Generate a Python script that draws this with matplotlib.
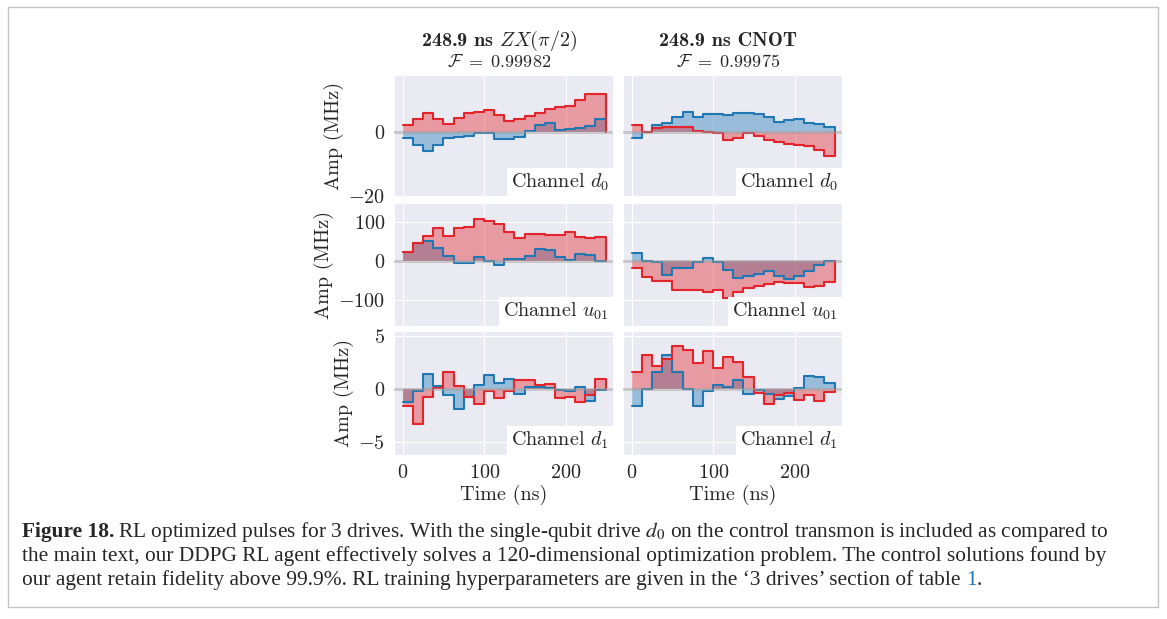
import numpy as np
import matplotlib.pyplot as plt
import seaborn as sns
from matplotlib.offsetbox import AnchoredText
from matplotlib.patches import Rectangle

sns.set_style('darkgrid')
plt.rcParams['font.family'] = ['cmr10']
plt.rcParams['mathtext.fontset'] = 'cm'
plt.rcParams['axes.formatter.use_mathtext'] = True

# pulse amplitudes (MHz), 20 piecewise-constant segments each
duration = 248.9
n_seg = 20

zx_d0_re = [2.1, 3.9, 5.9, 3.9, 2.4, 4.2, 5.7, 6.0, 6.8, 5.2, 3.4, 3.9, 5.0, 5.9, 7.0, 7.6, 8.1, 9.9, 11.8, 11.8]
zx_d0_im = [-2.1, -4.2, -5.9, -4.2, -2.1, -1.8, -1.25, -0.5, -0.5, -2.3, -2.4, -1.6, 0.3, 2.1, 2.6, 0.5, 0.7, 1.0, 1.9, 3.9]
cx_d0_re = [2.1, 0.0, 1.0, 1.35, 1.35, 1.35, 0.3, 0.0, -0.3, -2.6, -1.9, -0.5, -1.25, -2.6, -3.1, -3.9, -4.2, -4.5, -5.7, -7.6]
cx_d0_im = [-2.1, 0.0, 2.1, 2.8, 4.7, 6.0, 4.7, 5.4, 5.4, 5.2, 5.9, 5.7, 5.5, 4.7, 2.9, 3.6, 3.9, 2.6, 2.3, 1.35]

zx_u01_re = [22, 45, 64, 83, 64, 83, 87, 106, 102, 94, 73, 59, 68, 68, 66, 66, 73, 62, 57, 62]
zx_u01_im = [22, 45, 51, 32, 13.5, -4, -4, 9, 1, -10, 5, 5, 13.5, 30, 28, 11, 2.5, 17, 15, 0]
cx_u01_re = [-19, -40, -51, -51, -73, -74, -73, -78, -73, -93, -78, -68, -64, -59, -53, -55, -57, -66, -64, -53]
cx_u01_im = [20, -1, -2.5, -36, -19, -19, -2.5, 7.6, -2.5, -24, -42, -39, -32, -25, -39, -46, -39, -26, -11, 0]

zx_d1_re = [-1.6, -3.3, -0.7, 0.1, 1.6, 0.3, -0.7, -1.4, -0.2, -0.8, -0.2, 0.9, 0.9, 0.4, 0.5, -0.8, -0.7, -1.2, -0.5, 0.95]
zx_d1_im = [-1.2, -0.2, 1.4, 0.3, -0.5, -1.85, -0.7, 0.4, 1.35, 0.55, 1.0, -0.4, 0.2, 0.2, 0.1, -0.1, -0.15, 0.25, -1.1, -0.05]
cx_d1_re = [1.6, 3.2, 2.2, 2.9, 4.1, 3.7, 2.5, 3.6, 2.0, 3.0, 2.6, 1.2, -0.35, -1.4, -0.55, -0.35, -1.0, -0.55, -1.1, -0.25]
cx_d1_im = [-1.55, 0.0, 1.6, 3.2, 1.6, 0.0, -1.55, -0.2, 0.4, 0.2, 0.85, -0.4, -0.1, -0.4, -0.9, -0.6, 0.1, 1.25, 1.15, 0.6]

gate_titles = [r'248.9 ns $ZX(\pi/2)$', '248.9 ns CNOT']
fidelities = [r'$\mathcal{F}\ =\ 0.99982$', r'$\mathcal{F}\ =\ 0.99975$']
channels = [r'Channel $d_0$', r'Channel $u_{01}$', r'Channel $d_1$']
pulses = [[(zx_d0_re, zx_d0_im), (cx_d0_re, cx_d0_im)],
          [(zx_u01_re, zx_u01_im), (cx_u01_re, cx_u01_im)],
          [(zx_d1_re, zx_d1_im), (cx_d1_re, cx_d1_im)]]
ylims = [(-20.4, 17.7), (-165, 147), (-6.2, 5.5)]
yticks = [[-20, 0], [-100, 0, 100], [-5, 0, 5]]

W, H = 1167, 619
fig = plt.figure(figsize=(W / 100, H / 100), dpi=100)
fig.patch.set_facecolor('white')
fig.patches.append(Rectangle((8 / W, 1 - 607 / H), 1150 / W, 600 / H, transform=fig.transFigure,
                             fill=False, edgecolor='#c4c4c4', lw=1))

cols = [(394, 613), (623, 842)]
rows = [(75, 197), (203, 326), (331, 455)]
edges = np.linspace(0, duration, n_seg + 1)

red, blue = '#e3242b', '#1f77b4'
for i, (y0, y1) in enumerate(rows):
    for j, (x0, x1) in enumerate(cols):
        ax = fig.add_axes([x0 / W, 1 - y1 / H, (x1 - x0) / W, (y1 - y0) / H])
        re, im = pulses[i][j]
        for vals, c in [(im, blue), (re, red)]:
            v = np.append(vals, vals[-1])
            ax.fill_between(edges, v, step='post', color=c, alpha=0.4, lw=0)
            ax.step(edges, np.append(vals, 0.0), where='post', color=c, lw=1.5)
        ax.axhline(0, color='#999999', lw=2, alpha=0.5, zorder=3)
        ax.set_xlim(-11, 258)
        ax.set_ylim(*ylims[i])
        ax.set_xticks([0, 100, 200])
        ax.set_yticks(yticks[i])
        ax.tick_params(labelsize=14.5, pad=3)
        if j == 1:
            ax.tick_params(labelleft=False)
        else:
            ax.set_ylabel('Amp (MHz)', fontsize=14.5, labelpad=3)
        if i < 2:
            ax.tick_params(labelbottom=False)
        else:
            ax.set_xlabel('Time (ns)', fontsize=14.5, labelpad=2)
        at = AnchoredText(channels[i], loc='lower right', prop=dict(size=14.5),
                          frameon=True, borderpad=0, pad=0.2)
        at.patch.set_boxstyle('square,pad=0')
        at.patch.set_facecolor('white')
        at.patch.set_edgecolor('none')
        ax.add_artist(at)
        if i == 0:
            ax.text(0.48, 1 + 34 / 122, gate_titles[j], transform=ax.transAxes, ha='center',
                    va='center', fontsize=14.5, family='cmb10')
            ax.text(0.48, 1 + 13 / 122, fidelities[j], transform=ax.transAxes, ha='center',
                    va='center', fontsize=13)

# caption
renderer = fig.canvas.get_renderer()
cap_kw = dict(fontsize=15.4, family='Liberation Serif', math_fontfamily='stix', va='baseline')


def put(x, y, s, **kw):
    t = fig.text(x / W, 1 - y / H, s, **cap_kw, **kw)
    return x + t.get_window_extent(renderer).width


x = put(22, 537, 'Figure 18.', weight='bold')
put(x + 4, 537, 'RL optimized pulses for 3 drives. With the single-qubit drive $d_0$ on the control '
                'transmon is included as compared to')
put(22, 561, 'the main text, our DDPG RL agent effectively solves a 120-dimensional optimization '
             'problem. The control solutions found by')
x = put(22, 585, 'our agent retain fidelity above 99.9%. RL training hyperparameters are given in the '
                 '\u20183 drives\u2019 section of table ')
x = put(x, 585, '1', color='#1a70b5')
put(x, 585, '.')

fig.savefig('out.png', dpi=100)
